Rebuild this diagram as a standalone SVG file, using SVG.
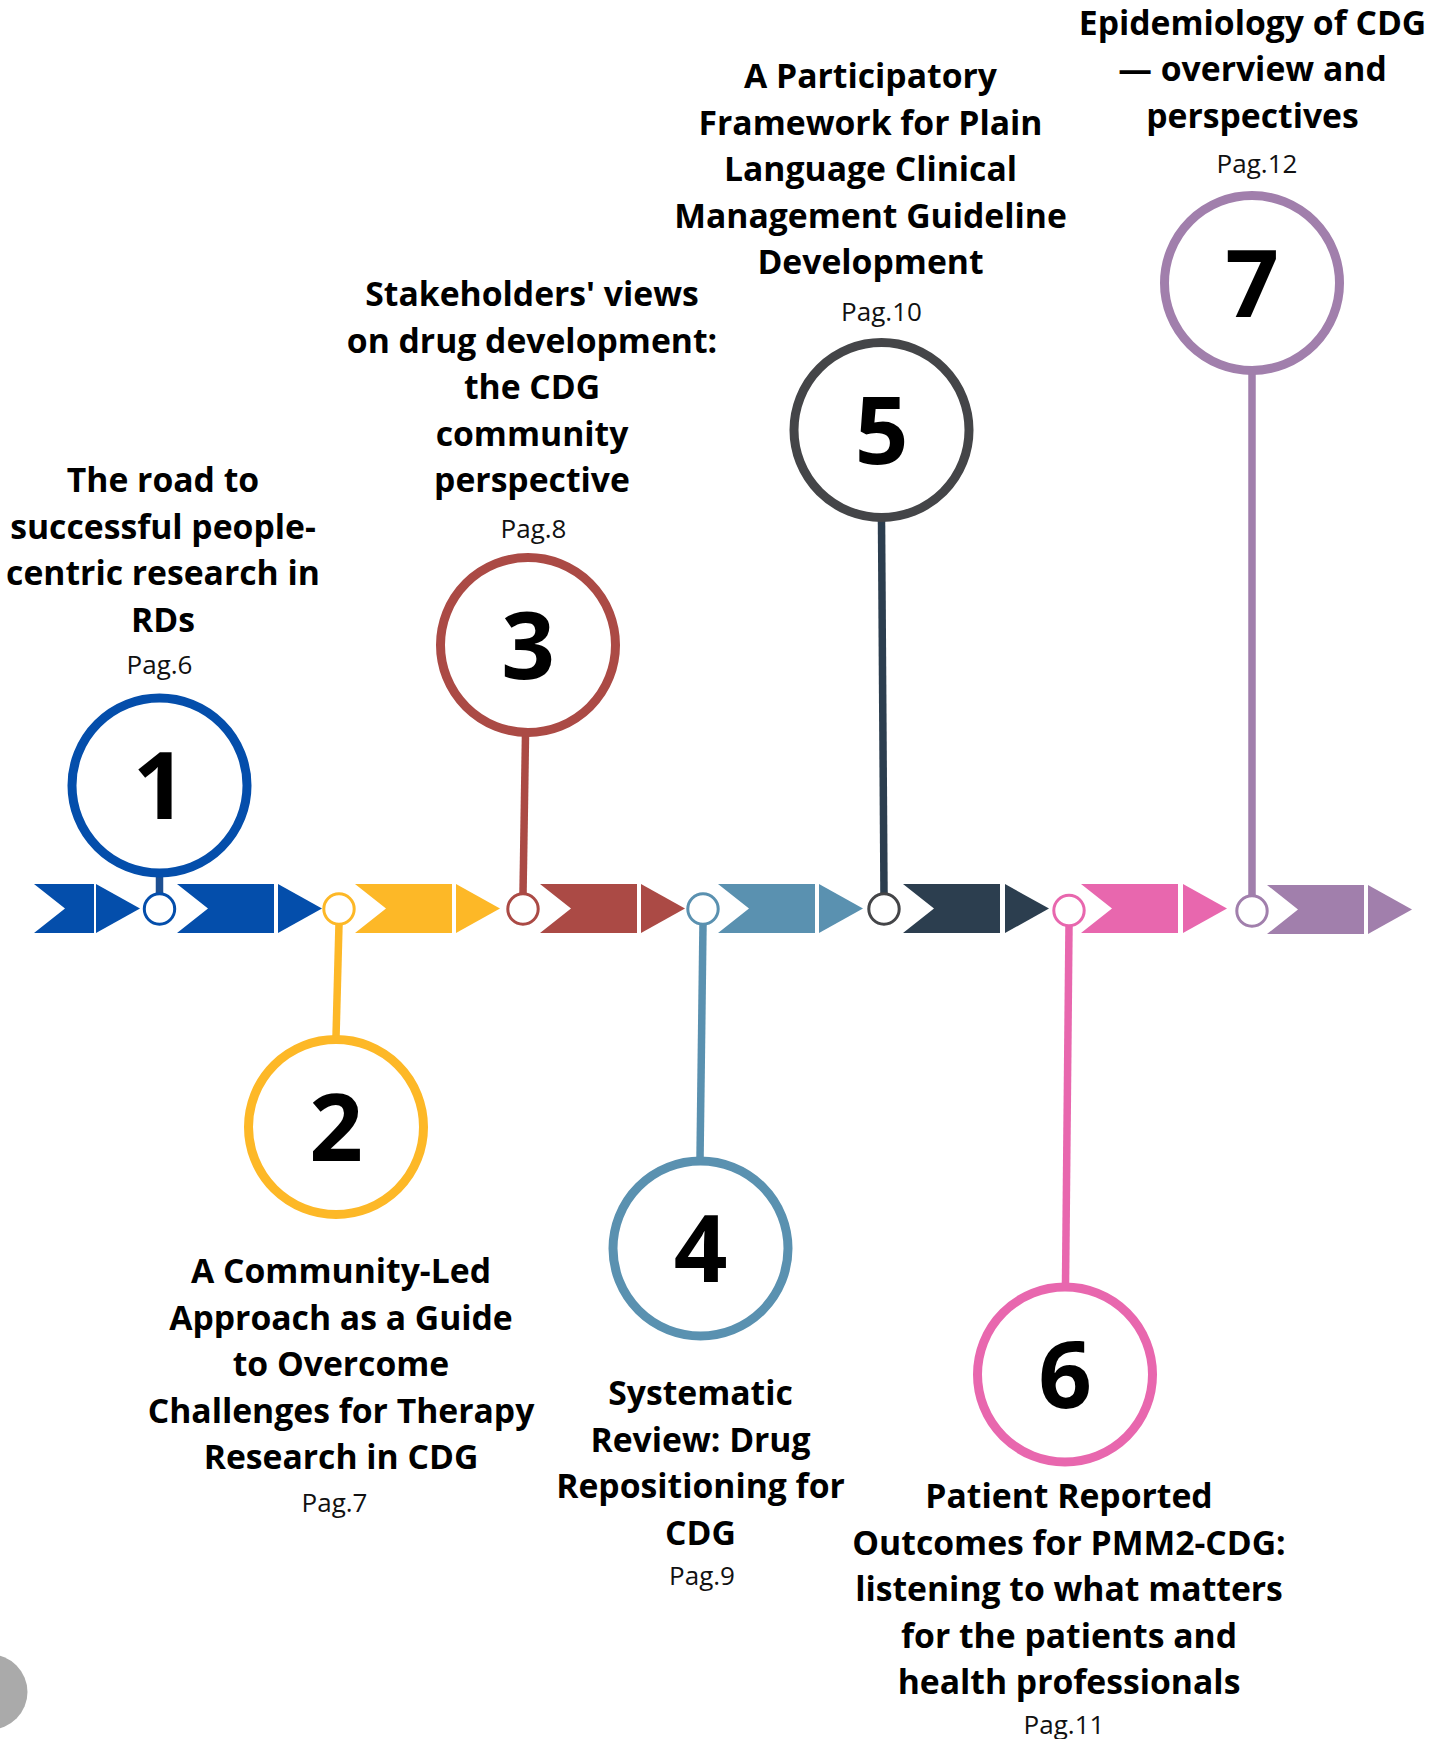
<svg xmlns="http://www.w3.org/2000/svg" xmlns:xlink="http://www.w3.org/1999/xlink" width="1446" height="1739" viewBox="0 0 1446 1739">
  <style>
    .title { font-family: "Open Sans", "Liberation Sans", sans-serif; font-weight: 700; font-size: 33.7px; fill: #000; text-anchor: middle; }
    .page { font-family: "Open Sans", "Liberation Sans", sans-serif; font-weight: 400; font-size: 26px; fill: #111; text-anchor: middle; }
    .num { font-family: "Open Sans", "Liberation Sans", sans-serif; font-weight: 700; font-size: 94px; fill: #000; text-anchor: middle; }
    .ring { fill: #fff; stroke-width: 9; }
    .dot { fill: #fff; stroke-width: 3; }
    .stem { stroke-width: 7.5; fill: none; }
  </style>
  <defs>
    <path id="chev" d="M0,0 H97 V49 H0 L31,24.5 Z"/>
    <path id="tri" d="M0,0 L44,24.5 L0,49 Z"/>
  </defs>

  <rect width="1446" height="1739" fill="#fff"/>

  <!-- timeline arrows -->
  <g id="timeline">
    <path d="M34,884 H94 V933 H34 L65,908.5 Z" fill="#044eab"/>
    <use xlink:href="#tri" x="96" y="884" fill="#044eab"/>
    <use xlink:href="#chev" x="177" y="884" fill="#044eab"/>
    <use xlink:href="#tri" x="278" y="884" fill="#044eab"/>
    <use xlink:href="#chev" x="355" y="884" fill="#fdb827"/>
    <use xlink:href="#tri" x="456" y="884" fill="#fdb827"/>
    <use xlink:href="#chev" x="540" y="884" fill="#ab4a45"/>
    <use xlink:href="#tri" x="641" y="884" fill="#ab4a45"/>
    <use xlink:href="#chev" x="718" y="884" fill="#5a91b0"/>
    <use xlink:href="#tri" x="819" y="884" fill="#5a91b0"/>
    <use xlink:href="#chev" x="903" y="884" fill="#2c3e4f"/>
    <use xlink:href="#tri" x="1005" y="884" fill="#2c3e4f"/>
    <use xlink:href="#chev" x="1081" y="884" fill="#e867ae"/>
    <use xlink:href="#tri" x="1183" y="884" fill="#e867ae"/>
    <use xlink:href="#chev" x="1267" y="885" fill="#a17fac"/>
    <use xlink:href="#tri" x="1368" y="885" fill="#a17fac"/>
  </g>

  <!-- connectors: stems from timeline points to numbered rings -->
  <g id="connectors">
    <line class="stem" x1="159.5" y1="876" x2="159.5" y2="895" stroke="#1d4f91"/>
    <line class="stem" x1="339" y1="924" x2="336" y2="1037" stroke="#fdb827"/>
    <line class="stem" x1="525.5" y1="735" x2="523" y2="894" stroke="#ab4a45"/>
    <line class="stem" x1="703" y1="924" x2="700" y2="1159" stroke="#5a91b0"/>
    <line class="stem" x1="881.5" y1="520" x2="884" y2="894" stroke="#2c3e4f"/>
    <line class="stem" x1="1069" y1="926" x2="1065.5" y2="1285" stroke="#e867ae"/>
    <line class="stem" x1="1252" y1="373" x2="1252" y2="896" stroke="#a17fac"/>
  </g>

  <!-- timeline points -->
  <g id="points">
    <circle class="dot" cx="159.5" cy="909" r="15.2" stroke="#044eab"/>
    <circle class="dot" cx="339" cy="909" r="15.2" stroke="#fdb827"/>
    <circle class="dot" cx="523" cy="909" r="15.2" stroke="#ab4a45"/>
    <circle class="dot" cx="703" cy="909" r="15.2" stroke="#5a91b0"/>
    <circle class="dot" cx="884" cy="909" r="15.2" stroke="#444548"/>
    <circle class="dot" cx="1069" cy="910.5" r="15.2" stroke="#e867ae"/>
    <circle class="dot" cx="1252" cy="911" r="15.2" stroke="#a17fac"/>
  </g>

  <g id="node-1">
    <circle class="ring" cx="159.5" cy="785.5" r="87.5" stroke="#044eab"/>
    <text class="num" x="159.5" y="819">1</text>
    <text class="title" x="163" y="492">The road to</text>
    <text class="title" x="163" y="538.5">successful people-</text>
    <text class="title" x="163" y="585">centric research in</text>
    <text class="title" x="163" y="631.5">RDs</text>
    <text class="page" x="159.5" y="674">Pag.6</text>
  </g>

  <g id="node-2">
    <circle class="ring" cx="336" cy="1127" r="87.5" stroke="#fdb827"/>
    <text class="num" x="336" y="1161">2</text>
    <text class="title" x="341" y="1283">A Community-Led</text>
    <text class="title" x="341" y="1329.5">Approach as a Guide</text>
    <text class="title" x="341" y="1376">to Overcome</text>
    <text class="title" x="341" y="1422.5">Challenges for Therapy</text>
    <text class="title" x="341" y="1469">Research in CDG</text>
    <text class="page" x="334.5" y="1512">Pag.7</text>
  </g>

  <g id="node-3">
    <circle class="ring" cx="528" cy="645" r="87.5" stroke="#ab4a45"/>
    <text class="num" x="528" y="679">3</text>
    <text class="title" x="532" y="306">Stakeholders' views</text>
    <text class="title" x="532" y="352.5">on drug development:</text>
    <text class="title" x="532" y="399">the CDG</text>
    <text class="title" x="532" y="445.5">community</text>
    <text class="title" x="532" y="492">perspective</text>
    <text class="page" x="533.5" y="538">Pag.8</text>
  </g>

  <g id="node-4">
    <circle class="ring" cx="700.5" cy="1248.5" r="87.5" stroke="#5a91b0"/>
    <text class="num" x="700.5" y="1282">4</text>
    <text class="title" x="700.5" y="1405">Systematic</text>
    <text class="title" x="700.5" y="1451.5">Review: Drug</text>
    <text class="title" x="700.5" y="1498">Repositioning for</text>
    <text class="title" x="700.5" y="1544.5">CDG</text>
    <text class="page" x="702" y="1585">Pag.9</text>
  </g>

  <g id="node-5">
    <circle class="ring" cx="881.5" cy="430" r="87.5" stroke="#444548"/>
    <text class="num" x="881.5" y="464">5</text>
    <text class="title" x="870.5" y="88">A Participatory</text>
    <text class="title" x="870.5" y="134.5">Framework for Plain</text>
    <text class="title" x="870.5" y="181">Language Clinical</text>
    <text class="title" x="870.5" y="227.5">Management Guideline</text>
    <text class="title" x="870.5" y="274">Development</text>
    <text class="page" x="881.5" y="321">Pag.10</text>
  </g>

  <g id="node-6">
    <circle class="ring" cx="1065" cy="1374.5" r="87.5" stroke="#e867ae"/>
    <text class="num" x="1065" y="1408">6</text>
    <text class="title" x="1069" y="1508">Patient Reported</text>
    <text class="title" x="1069" y="1554.5">Outcomes for PMM2-CDG:</text>
    <text class="title" x="1069" y="1601">listening to what matters</text>
    <text class="title" x="1069" y="1647.5">for the patients and</text>
    <text class="title" x="1069" y="1694">health professionals</text>
    <text class="page" x="1064" y="1734">Pag.11</text>
  </g>

  <g id="node-7">
    <circle class="ring" cx="1252" cy="283" r="87.5" stroke="#a17fac"/>
    <text class="num" x="1252" y="317">7</text>
    <text class="title" x="1252.5" y="34.5">Epidemiology of CDG</text>
    <text class="title" x="1252.5" y="81">— overview and</text>
    <text class="title" x="1252.5" y="127.5">perspectives</text>
    <text class="page" x="1257" y="173">Pag.12</text>
  </g>

  <!-- partial grey disc at the lower left edge -->
  <circle cx="-10" cy="1692" r="37.5" fill="#aaaaaa"/>
</svg>
